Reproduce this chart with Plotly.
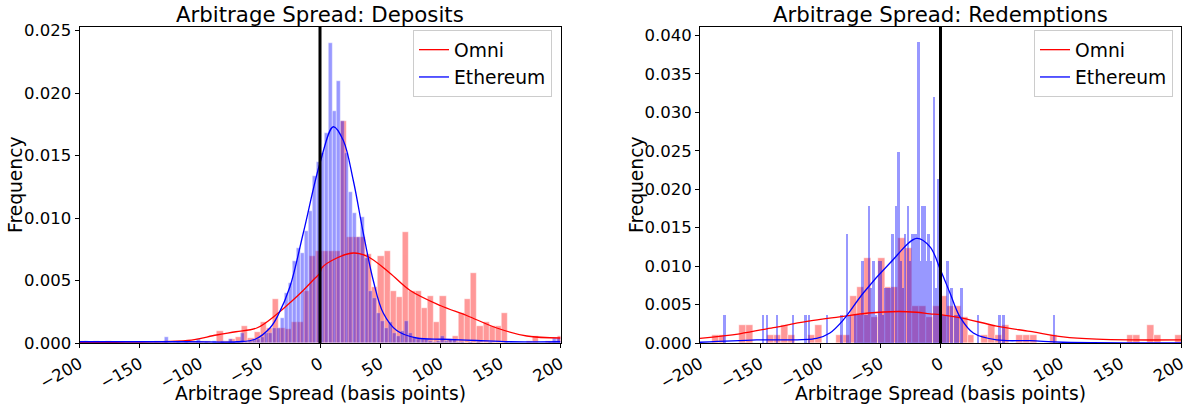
import plotly.graph_objects as go

# ---------------- DATA ----------------
# Deposits - Omni histogram (equal bins)
omni_dep_start = -199.05
omni_dep_width = 5.15
omni_dep_heights = [
    0.0002, 0, 0.0002, 0, 0.0002, 0, 0, 0, 0, 0,
    0, 0, 0.0002, 0.0002, 0, 0.0002, 0.0002, 0.0002, 0.0002, 0.0002,
    0.0002, 0, 0.00096, 0.0002, 0.0003, 0.0005, 0.0014, 0.0004, 0.0009, 0.0017,
    0.0012, 0.0035, 0.0012, 0.0011, 0.0017, 0.0017, 0.0042, 0.0070, 0.0074, 0.0074,
    0.0074, 0.0074, 0.0178, 0.0085, 0.0085, 0.0085, 0.0071, 0.0045, 0.0070, 0.0074,
    0.0042, 0.0037, 0.0089, 0.0042, 0.0042, 0.0028, 0.0038, 0.0017, 0.0038, 0.0003,
    0.0006, 0.0024, 0.0035, 0.0056, 0.0014, 0.0017, 0.0014, 0.0014, 0.0024, 0,
    0, 0, 0.0002, 0.0006, 0, 0.0002, 0.0002, 0.0006,
]

# Deposits - Ethereum histogram (equal bins)
eth_dep_start = -199.56
eth_dep_width = 3.33
eth_dep_heights = [
    0.0001, 0.0002, 0, 0.0001, 0, 0.0001, 0, 0, 0.0001, 0,
    0, 0, 0, 0, 0, 0, 0, 0, 0, 0,
    0, 0.0005, 0, 0, 0.0002, 0, 0.0002, 0, 0, 0.0003,
    0, 0.0001, 0, 0.0002, 0, 0.0002, 0, 0.0003, 0.0001, 0.0002,
    0.0008, 0.0001, 0.0002, 0.0003, 0.0003, 0.0005, 0.0008, 0.0008, 0.0012, 0.0012,
    0.0020, 0.0040, 0.0048, 0.0066, 0.0076, 0.0072, 0.0090, 0.0106, 0.0134, 0.0145,
    0.0152, 0.0168, 0.0240, 0.0186, 0.0210, 0.0178, 0.0152, 0.0121, 0.0104, 0.0085,
    0.0101, 0.0068, 0.0042, 0.0036, 0.0024, 0.0018, 0.0012, 0.0017, 0.0008, 0.0006,
    0.0010, 0.0018, 0.0008, 0.0005, 0.0003, 0.0003, 0.0003, 0.0002, 0.0001, 0.0002,
    0.0006, 0.0002, 0.0003, 0.0003, 0.0001, 0.0001, 0, 0.0001, 0, 0.0001,
    0, 0, 0.0001, 0, 0, 0, 0.0001, 0, 0, 0,
    0, 0, 0, 0, 0, 0, 0, 0.0001, 0.0004, 0.0004,
]

# Redemptions - Omni histogram (equal bins)
omni_red_start = -201.8
omni_red_width = 5.75
omni_red_heights = [
    0, 0, 0.0011, 0.0011, 0, 0, 0.0023, 0.0023, 0, 0,
    0.0011, 0.0011, 0.0023, 0.0011, 0, 0, 0.0011, 0.0023, 0, 0,
    0.0011, 0.0011, 0.0061, 0.0073, 0.0111, 0.0034, 0.0111, 0.0073, 0.0073, 0.0137,
    0.0124, 0.0048, 0.0048, 0.0034, 0.0048, 0.0061, 0.0048, 0.0048, 0.0034, 0.0011,
    0, 0.0011, 0.0023, 0.0011, 0.0023, 0, 0.0011, 0.0011, 0.0011, 0,
    0, 0.0011, 0, 0, 0, 0, 0, 0, 0, 0,
    0, 0, 0.0011, 0.0011, 0, 0.0023, 0.0011, 0, 0, 0.0011,
]

# Redemptions - Ethereum histogram (narrow bins, bin centres + heights)
eth_red_width = 2.1
eth_red_centers = [
    -179.5, -147.7, -144.1, -135.8, -122.8, -112.4, -109.2, -94.2,
    -82.4, -77.6, -75.5, -71.0, -69.0, -67.0, -65.0, -63.0, -61.0, -59.3,
    -57.2, -55.6, -53.5, -51.3, -49.5, -48.0, -46.0, -44.0, -42.0, -39.8,
    -37.0, -35.1, -33.0, -31.0, -29.5, -27.2, -25.0, -23.5, -21.8, -20.2,
    -18.5, -16.6, -14.8, -13.2, -11.5, -9.8, -8.0, -5.3, -3.6, -1.9,
    0.5, 2.5, 4.5, 6.0, 9.3, 12.0, 14.0, 17.6, 31.0, 49.0, 52.6, 94.2,
]
eth_red_heights = [
    0.0036, 0.0036, 0.0036, 0.0036, 0.0036, 0.0036, 0.0036, 0.0036,
    0.0036, 0.0142, 0.0036, 0.0036, 0.0036, 0.0036, 0.0107, 0.0036, 0.0036, 0.0178,
    0.0071, 0.0107, 0.0036, 0.0107, 0.0107, 0.0036, 0.0071, 0.0071, 0.0071, 0.0142,
    0.0178, 0.0249, 0.0107, 0.0071, 0.0142, 0.0178, 0.0107, 0.0142, 0.0142, 0.0142,
    0.0391, 0.0107, 0.0178, 0.0178, 0.0107, 0.0142, 0.0107, 0.0320, 0.0071, 0.0213,
    0.0071, 0.0036, 0.0036, 0.0107, 0.0071, 0.0036, 0.0036, 0.0071, 0.0036, 0.0036, 0.0036, 0.0036,
]

# KDE curves
kde_omni_dep_x = [-200, -170, -140, -110, -86, -70, -52.6, -36, -24, -14, -5, 0, 1.4, 14, 27.7, 40, 58, 75, 100, 122, 147, 172, 200]
kde_omni_dep_y = [0.00003, 0.00006, 0.0001, 0.0002, 0.00064, 0.0009, 0.0012, 0.0023, 0.0033, 0.0042, 0.0051, 0.0056, 0.0060, 0.0068, 0.0072, 0.0069, 0.0056, 0.0042, 0.0030, 0.0022, 0.0012, 0.00056, 0.0004]
kde_eth_dep_x = [-200, -110, -69, -54, -41.6, -35, -25, -13.9, 0, 11.1, 19.4, 27.7, 36, 44.3, 52.6, 63.8, 80.4, 102.5, 130, 158, 200]
kde_eth_dep_y = [0.0001, 0.0001, 0.0001, 0.0003, 0.0012, 0.0022, 0.0045, 0.0088, 0.0144, 0.0173, 0.0162, 0.0130, 0.0088, 0.0050, 0.0024, 0.0010, 0.0004, 0.0003, 0.0002, 0.0001, 0.0001]
kde_omni_red_x = [-200, -167, -139, -111, -84, -60, -35, -20, -8.7, 0, 19, 46.7, 74.4, 102, 130, 157.6, 200]
kde_omni_red_y = [0.0006, 0.0012, 0.0020, 0.0028, 0.0034, 0.0039, 0.0041, 0.0040, 0.0038, 0.0037, 0.0032, 0.0022, 0.0015, 0.0008, 0.0005, 0.0004, 0.0004]
kde_eth_red_x = [-200, -153, -103, -92, -80.8, -64.2, -42, -19.8, -8.7, 0, 7.9, 16.2, 27.3, 46.7, 74.4, 102, 200]
kde_eth_red_y = [0.0001, 0.0004, 0.0006, 0.0013, 0.0030, 0.0065, 0.0104, 0.0136, 0.0125, 0.0095, 0.0065, 0.0034, 0.0013, 0.0004, 0.0003, 0.0001, 0.0]

x_ticks = [-200, -150, -100, -50, 0, 50, 100, 150, 200]
y_ticks_dep = [0.000, 0.005, 0.010, 0.015, 0.020, 0.025]
y_ticks_red = [0.000, 0.005, 0.010, 0.015, 0.020, 0.025, 0.030, 0.035, 0.040]
titles = ["Arbitrage Spread: Deposits", "Arbitrage Spread: Redemptions"]
x_label = "Arbitrage Spread (basis points)"
y_label = "Frequency"
series_names = ["Omni", "Ethereum"]

# ---------------- FIGURE ----------------
RED = "#ff0000"
BLUE = "#0000ff"
FONT = "DejaVu Sans"
TICK_SIZE = 16.5
LABEL_SIZE = 18.7
TITLE_SIZE = 21.3


def centers(start, width, n):
    return [start + width * (i + 0.5) for i in range(n)]


fig = go.Figure()


def add_bars(x, y, w, color, xa, ya, edge=0.4):
    fig.add_trace(go.Bar(
        x=x, y=y, width=w, marker=dict(color=color, line=dict(color="white", width=edge)),
        opacity=0.4, showlegend=False, xaxis=xa, yaxis=ya, hoverinfo="skip"))


add_bars(centers(omni_dep_start, omni_dep_width, len(omni_dep_heights)), omni_dep_heights,
         omni_dep_width, RED, "x", "y")
add_bars(centers(eth_dep_start, eth_dep_width, len(eth_dep_heights)), eth_dep_heights,
         eth_dep_width, BLUE, "x", "y")
add_bars(centers(omni_red_start, omni_red_width, len(omni_red_heights)), omni_red_heights,
         omni_red_width, RED, "x2", "y2")
add_bars(eth_red_centers, eth_red_heights, eth_red_width, BLUE, "x2", "y2", edge=0)


def add_line(x, y, color, name, xa, ya, legend):
    fig.add_trace(go.Scatter(
        x=x, y=y, mode="lines", line=dict(color=color, width=1.3, shape="spline", smoothing=1.0),
        name=name, xaxis=xa, yaxis=ya, legend=legend))


add_line(kde_omni_dep_x, kde_omni_dep_y, RED, series_names[0], "x", "y", "legend")
add_line(kde_eth_dep_x, kde_eth_dep_y, BLUE, series_names[1], "x", "y", "legend")
add_line(kde_omni_red_x, kde_omni_red_y, RED, series_names[0], "x2", "y2", "legend2")
add_line(kde_eth_red_x, kde_eth_red_y, BLUE, series_names[1], "x2", "y2", "legend2")

W, H = 1186, 409
y_dom = [1 - 343 / H, 1 - 27 / H]
x_dom1 = [79.5 / W, 560.5 / W]
x_dom2 = [700 / W, 1181 / W]

axis_common = dict(showline=True, linecolor="black", linewidth=1, mirror=True,
                   ticks="outside", ticklen=4, tickcolor="black", showgrid=False,
                   zeroline=False, automargin=False, ticklabeloverflow="allow",
                   tickfont=dict(family=FONT, size=TICK_SIZE, color="black"))

xaxis_common = dict(axis_common, range=[-200, 200], tickvals=x_ticks, tickangle=-30)

legend_common = dict(xanchor="right", yanchor="top", bgcolor="white",
                     bordercolor="#cccccc", borderwidth=1, tracegroupgap=0,
                     font=dict(family=FONT, size=LABEL_SIZE, color="black"))

fig.update_layout(
    width=W, height=H,
    margin=dict(l=0, r=0, t=0, b=0, autoexpand=False),
    paper_bgcolor="white", plot_bgcolor="white",
    barmode="overlay", bargap=0,
    font=dict(family=FONT, color="black"),
    xaxis=dict(xaxis_common, domain=x_dom1, anchor="y"),
    yaxis=dict(axis_common, domain=y_dom, range=[0, 0.02528], tickvals=y_ticks_dep,
               tickformat=".3f", anchor="x"),
    xaxis2=dict(xaxis_common, domain=x_dom2, anchor="y2"),
    yaxis2=dict(axis_common, domain=y_dom, range=[0, 0.0411], tickvals=y_ticks_red,
                tickformat=".3f", anchor="x2"),
    legend=dict(legend_common, x=552 / W, y=1 - 30 / H),
    legend2=dict(legend_common, x=1173 / W, y=1 - 30 / H),
    showlegend=True,
)

for xref in ["x", "x2"]:
    yref = "y domain" if xref == "x" else "y2 domain"
    fig.add_shape(type="line", xref=xref, yref=yref, x0=0, x1=0, y0=0, y1=1,
                  line=dict(color="black", width=3))

annos = []
for xc, t in [((x_dom1[0] + x_dom1[1]) / 2, titles[0]),
              ((x_dom2[0] + x_dom2[1]) / 2, titles[1])]:
    annos.append(dict(x=xc, y=1 - 14 / H, xref="paper", yref="paper", text=t, showarrow=False,
                      xanchor="center", yanchor="middle",
                      font=dict(family=FONT, size=TITLE_SIZE, color="black")))
    annos.append(dict(x=xc, y=1 - 393 / H, xref="paper", yref="paper", text=x_label, showarrow=False,
                      xanchor="center", yanchor="middle",
                      font=dict(family=FONT, size=LABEL_SIZE, color="black")))
for xp in [16 / W, 637 / W]:
    annos.append(dict(x=xp, y=1 - 185 / H, xref="paper", yref="paper", text=y_label, showarrow=False,
                      textangle=-90, xanchor="center", yanchor="middle",
                      font=dict(family=FONT, size=LABEL_SIZE, color="black")))
fig.update_layout(annotations=annos)

fig.write_html(
    "out.html",
    config={"displayModeBar": False},
    post_script="document.body.style.margin='0px';document.body.style.padding='0px';"
                "document.body.style.overflow='hidden';",
)
